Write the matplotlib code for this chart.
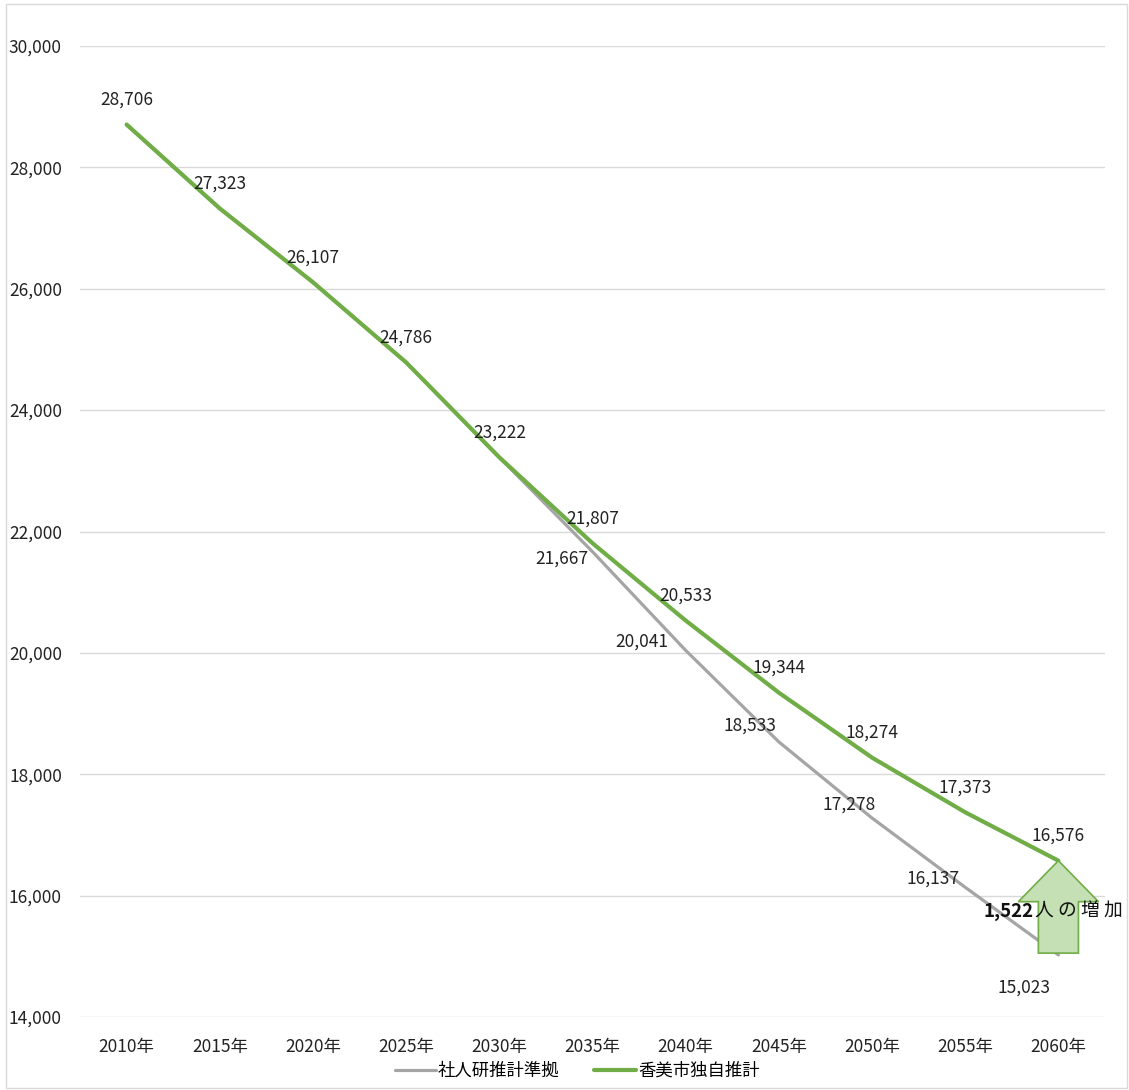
import matplotlib
matplotlib.use("Agg")
import matplotlib.pyplot as plt
from matplotlib.patches import Polygon, Rectangle
import numpy as np

plt.rcParams['font.family'] = ['Noto Sans CJK JP', 'DejaVu Sans']

years = ["2010年", "2015年", "2020年", "2025年", "2030年", "2035年",
         "2040年", "2045年", "2050年", "2055年", "2060年"]
ipss = [28706, 27323, 26107, 24786, 23222, 21667, 20041, 18533, 17278, 16137, 15023]
kami = [28706, 27323, 26107, 24786, 23222, 21807, 20533, 19344, 18274, 17373, 16576]
series_names = ["社人研推計準拠", "香美市独自推計"]
yticks = [14000, 16000, 18000, 20000, 22000, 24000, 26000, 28000, 30000]
increase_label = "1,522"
increase_suffix = "人の増加"

GREEN = "#70AD47"
GRAY = "#A5A5A5"
FS = 12.5

fig = plt.figure(figsize=(11.29, 10.9), dpi=100)
ax = fig.add_axes([80 / 1129, 1 - 1017 / 1090, (1105 - 80) / 1129, (1017 - 46) / 1090])
fig.patches.append(Rectangle((6 / 1129, 2 / 1090), 1121 / 1129, 1084 / 1090,
                             transform=fig.transFigure, fill=False,
                             edgecolor="#D9D9D9", linewidth=1))

x = np.arange(len(years))
ax.plot(x, ipss, color=GRAY, linewidth=2.3, label=series_names[0], solid_capstyle='round', zorder=3)
ax.plot(x, kami, color=GREEN, linewidth=3.0, label=series_names[1], solid_capstyle='round', zorder=4)

ax.set_xlim(-0.5, len(years) - 0.5)
ax.set_ylim(14000, 30000)
ax.set_yticks(yticks)
ax.set_yticklabels([f"{v:,}" for v in yticks])
ax.set_xticks(x)
ax.set_xticklabels(years)
ax.grid(axis='y', color="#D9D9D9", linewidth=1)
ax.set_axisbelow(True)
for s in ax.spines.values():
    s.set_visible(False)
ax.tick_params(axis='both', length=0, labelsize=FS, colors="#222222")
ax.tick_params(axis='x', pad=15)
ax.tick_params(axis='y', pad=13)

# green labels above
for xi, v in zip(x, kami):
    ax.annotate(f"{v:,}", (xi, v), xytext=(0, 25), textcoords='offset pixels',
                ha='center', va='center', fontsize=FS, color="#222222", zorder=6)

# gray labels (from 2035 onward), left of point
gray_offsets = {5: (-4, -7), 6: (-17, 9), 7: (-2, 16), 8: (4, 13), 9: (-6, 9)}
for i, (dx, dy) in gray_offsets.items():
    ax.annotate(f"{ipss[i]:,}", (x[i], ipss[i]), xytext=(dx, dy), textcoords='offset pixels',
                ha='right', va='center', fontsize=FS, color="#222222", zorder=6)
ax.annotate(f"{ipss[10]:,}", (x[10], ipss[10]), xytext=(-34, -33), textcoords='offset pixels',
            ha='center', va='center', fontsize=FS, color="#222222", zorder=6)

# arrow showing increase
xa = x[-1]
bw, hw = 0.215, 0.43
y0 = ipss[-1] + 30
ytop = kami[-1]
yhb = 15900
arrow = Polygon([(xa - bw, y0), (xa + bw, y0), (xa + bw, yhb), (xa + hw, yhb),
                 (xa, ytop), (xa - hw, yhb), (xa - bw, yhb)], closed=True,
                facecolor="#C5E0B4", edgecolor=GREEN, linewidth=1.2, zorder=5)
ax.add_patch(arrow)

t1 = ax.text(9.2, 15740, increase_label, fontsize=13.5, fontweight='bold',
             ha='left', va='center', color="#111111", zorder=7, clip_on=False)
fig.canvas.draw()
bb = t1.get_window_extent()
inv = ax.transData.inverted()
xe = inv.transform((bb.x1 + 1, 0))[0]
ax.text(xe, 15740, " ".join(list(increase_suffix)), fontsize=13.5,
        ha='left', va='center', color="#111111", zorder=7, clip_on=False)

leg = ax.legend(loc='upper center', bbox_to_anchor=(0.485, -0.03), ncol=2, frameon=False,
                fontsize=FS, handlelength=2.4, handletextpad=0.1, columnspacing=2.0)

fig.savefig("out.png", dpi=100)
